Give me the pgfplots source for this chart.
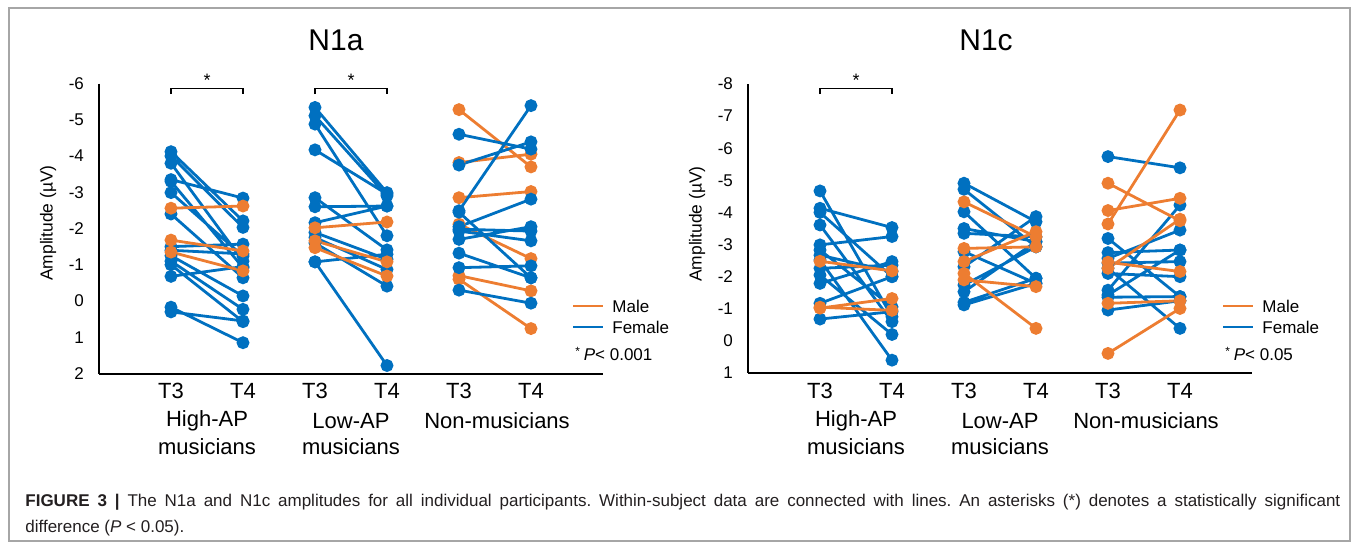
\documentclass[border=0pt]{standalone}
\usepackage{fontspec}
\setmainfont{Liberation Sans}
\usepackage{pgfplots}
\pgfplotsset{compat=1.18}
\definecolor{male}{RGB}{237,125,49}
\definecolor{female}{RGB}{0,112,192}
\definecolor{capgray}{RGB}{35,31,32}
\frenchspacing

\pgfplotsset{
  panel/.style={
    scale only axis, width=252pt,
    xmin=0, xmax=7, y dir=reverse,
    axis x line*=bottom, axis y line*=left,
    axis line style={line width=1pt, -},
    xtick={1,...,6}, xticklabels={T3,T4,T3,T4,T3,T4},
    major tick length=0pt, tick style={draw=none},
    x tick label style={font=\fontsize{11}{13}\selectfont, yshift=-1.5pt},
    y tick label style={font=\fontsize{8.5}{10}\selectfont, xshift=-4pt},
    unbounded coords=jump, clip=false,
  },
  fem/.style={female, line width=1.4pt, mark=*, mark size=2.5pt, mark options={fill=female, draw=female}},
  mal/.style={male, line width=1.4pt, mark=*, mark size=2.5pt, mark options={fill=male, draw=male}},
}

\begin{document}
\begin{tikzpicture}
% ---------- N1a ----------
\begin{axis}[panel, at={(49.5pt,-186.75pt)}, anchor=south west, height=145pt,
  ymin=-6, ymax=2, ytick={-6,...,2}, yticklabels={-6,-5,-4,-3,-2,-1,0,1,2}]
% High-AP
\addplot[fem] coordinates {
 (1,-4.12)(2,-2.21)(1.5,nan) (1,-4.00)(2,-2.03)(1.5,nan) (1,-3.80)(2,-1.10)(1.5,nan)
 (1,-3.35)(2,-2.84)(1.5,nan) (1,-3.30)(2,-0.92)(1.5,nan) (1,-2.99)(2,-1.24)(1.5,nan)
 (1,-2.40)(2,-0.64)(1.5,nan) (1,-1.50)(2,-1.57)(1.5,nan) (1,-1.40)(2,-1.30)(1.5,nan)
 (1,-1.25)(2,-0.14)(1.5,nan) (1,-1.10)(2,0.23)(1.5,nan) (1,-1.00)(2,0.57)(1.5,nan)
 (1,-0.68)(2,-0.95)(1.5,nan) (1,0.17)(2,1.15)(1.5,nan) (1,0.30)(2,0.55)};
\addplot[mal] coordinates {
 (1,-2.56)(2,-2.62)(1.5,nan) (1,-1.68)(2,-1.38)(1.5,nan) (1,-1.35)(2,-0.83)};
% Low-AP
\addplot[fem] coordinates {
 (3,-5.34)(4,-2.99)(3.5,nan) (3,-5.11)(4,-2.90)(3.5,nan) (3,-4.88)(4,-1.80)(3.5,nan)
 (3,-4.17)(4,-2.95)(3.5,nan) (3,-2.85)(4,-1.41)(3.5,nan) (3,-2.60)(4,-2.62)(3.5,nan)
 (3,-2.16)(4,-2.62)(3.5,nan) (3,-1.89)(4,-1.15)(3.5,nan) (3,-1.75)(4,-0.87)(3.5,nan)
 (3,-1.60)(4,-0.41)(3.5,nan) (3,-1.08)(4,-1.29)(3.5,nan) (3,-1.08)(4,1.78)};
\addplot[mal] coordinates {
 (3,-2.02)(4,-2.18)(3.5,nan) (3,-1.66)(4,-1.08)(3.5,nan) (3,-1.47)(4,-0.69)};
% Non-musicians
\addplot[mal] coordinates {
 (5,-5.28)(6,-3.70)(5.5,nan) (5,-3.82)(6,-4.05)(5.5,nan) (5,-2.85)(6,-3.02)(5.5,nan)
 (5,-2.12)(6,-1.17)(5.5,nan) (5,-0.70)(6,-0.28)(5.5,nan) (5,-0.60)(6,0.76)};
\addplot[fem] coordinates {
 (5,-4.60)(6,-4.19)(5.5,nan) (5,-3.75)(6,-4.39)(5.5,nan) (5,-2.49)(6,-5.39)(5.5,nan)
 (5,-2.45)(6,-0.64)(5.5,nan) (5,-2.05)(6,-2.81)(5.5,nan) (5,-1.98)(6,-1.93)(5.5,nan)
 (5,-1.93)(6,-1.66)(5.5,nan) (5,-1.70)(6,-2.05)(5.5,nan) (5,-1.32)(6,-0.64)(5.5,nan)
 (5,-0.92)(6,-0.97)(5.5,nan) (5,-0.30)(6,0.06)};
\end{axis}

% ---------- N1c ----------
\begin{axis}[panel, at={(374pt,-186.5pt)}, anchor=south west, height=144.5pt,
  ymin=-8, ymax=1, ytick={-8,...,1}, yticklabels={-8,-7,-6,-5,-4,-3,-2,-1,0,1}]
% High-AP
\addplot[fem] coordinates {
 (1,-4.67)(2,-0.75)(1.5,nan) (1,-4.13)(2,-3.53)(1.5,nan) (1,-4.00)(2,-2.00)(1.5,nan)
 (1,-3.61)(2,-0.60)(1.5,nan) (1,-2.99)(2,-3.25)(1.5,nan) (1,-2.83)(2,-1.06)(1.5,nan)
 (1,-2.67)(2,-2.16)(1.5,nan) (1,-2.52)(2,0.60)(1.5,nan) (1,-2.26)(2,-2.36)(1.5,nan)
 (1,-2.05)(2,-0.20)(1.5,nan) (1,-1.79)(2,-2.47)(1.5,nan) (1,-1.17)(2,-2.00)(1.5,nan)
 (1,-0.68)(2,-0.91)};
\addplot[mal] coordinates {
 (1,-2.48)(2,-2.18)(1.5,nan) (1,-1.02)(2,-1.32)(1.5,nan) (1,-1.05)(2,-0.95)};
% Low-AP
\addplot[fem] coordinates {
 (3,-4.91)(4,-3.71)(3.5,nan) (3,-4.72)(4,-2.93)(3.5,nan) (3,-4.02)(4,-1.95)(3.5,nan)
 (3,-3.50)(4,-3.09)(3.5,nan) (3,-3.35)(4,-3.24)(3.5,nan) (3,-2.78)(4,-1.79)(3.5,nan)
 (3,-2.31)(4,-3.87)(3.5,nan) (3,-1.74)(4,-2.93)(3.5,nan) (3,-1.53)(4,-3.09)(3.5,nan)
 (3,-1.12)(4,-1.79)(3.5,nan) (3,-1.20)(4,-1.95)};
\addplot[mal] coordinates {
 (3,-4.33)(4,-3.24)(3.5,nan) (3,-2.88)(4,-2.93)(3.5,nan) (3,-2.47)(4,-3.40)(3.5,nan)
 (3,-2.10)(4,-0.39)(3.5,nan) (3,-1.90)(4,-1.69)};
% Non-musicians
\addplot[fem] coordinates {
 (5,-5.74)(6,-5.39)(5.5,nan) (5,-3.19)(6,-1.38)(5.5,nan) (5,-2.75)(6,-2.83)(5.5,nan)
 (5,-2.57)(6,-3.45)(5.5,nan) (5,-2.42)(6,-2.47)(5.5,nan) (5,-2.26)(6,-0.39)(5.5,nan)
 (5,-2.10)(6,-2.00)(5.5,nan) (5,-1.58)(6,-4.23)(5.5,nan) (5,-1.43)(6,-2.83)(5.5,nan)
 (5,-1.36)(6,-1.38)(5.5,nan) (5,-0.96)(6,-1.25)};
\addplot[mal] coordinates {
 (5,-3.64)(6,-7.19)(5.5,nan) (5,-4.91)(6,-3.74)(5.5,nan) (5,-4.06)(6,-4.44)(5.5,nan)
 (5,-2.26)(6,-3.79)(5.5,nan) (5,-2.45)(6,-2.16)(5.5,nan) (5,-1.17)(6,-1.25)(5.5,nan)
 (5,0.39)(6,-1.01)};
\end{axis}

% ---------- annotations (pixel grid: 1px = 0.5pt) ----------
\begin{scope}[x=0.5pt, y=-0.5pt]
\path[use as bounding box] (0,0) rectangle (1358,546);
\draw[gray!70, line width=0.6pt] (9,8) rectangle (1350,541);
% titles
\node[font=\fontsize{15}{18}\selectfont] at (336,40) {N1a};
\node[font=\fontsize{15}{18}\selectfont] at (986,40) {N1c};
% y labels
\node[rotate=90, font=\fontsize{8.7}{10}\selectfont] at (48,223) {Amplitude (µV)};
\node[rotate=90, font=\fontsize{8.7}{10}\selectfont] at (697,224) {Amplitude (µV)};
% group labels
\foreach \x/\a/\b in {207/High-AP/musicians, 351/Low-AP/musicians, 856/High-AP/musicians, 1000/Low-AP/musicians}{
  \node[font=\fontsize{11}{13}\selectfont] at (\x,421) {\a};
  \node[font=\fontsize{11}{13}\selectfont] at (\x,447) {\b};
}
\node[font=\fontsize{11}{13}\selectfont] at (497,421) {Non-musicians};
\node[font=\fontsize{11}{13}\selectfont] at (1146,421) {Non-musicians};
% significance brackets
\foreach \xa/\xb in {171/243, 315/387, 820/892}{
  \draw[line width=0.6pt] (\xa,94) -- (\xa,88.5) -- (\xb,88.5) -- (\xb,94);
  \node[font=\fontsize{9}{10}\selectfont] at ({(\xa+\xb)/2},80) {*};
}
% legends
\foreach \lx/\ptxt in {573/0.001, 1223/0.05}{
  \draw[male, line width=1.4pt] (\lx,306) -- ({\lx+30},306);
  \draw[female, line width=1.4pt] (\lx,327) -- ({\lx+30},327);
  \node[anchor=west, inner sep=0, font=\fontsize{8.5}{10}\selectfont] at ({\lx+39},306) {Male};
  \node[anchor=west, inner sep=0, font=\fontsize{8.5}{10}\selectfont] at ({\lx+39},327) {Female};
  \node[anchor=west, inner sep=0, font=\fontsize{8.5}{10}\selectfont] at ({\lx+2},354) {\textsuperscript{*}\,\textit{P}< \ptxt};
}
% caption
\node[anchor=base west, inner sep=0, text=capgray, font=\fontsize{8.5}{10}\selectfont] at (25,506)
  {\makebox[657.5pt][s]{\textbf{FIGURE 3 |} The N1a and N1c amplitudes for all individual participants. Within-subject data are connected with lines. An asterisks (*) denotes a statistically significant}};
\node[anchor=base west, inner sep=0, text=capgray, font=\fontsize{8.5}{10}\selectfont] at (25,532)
  {difference (\textit{P} < 0.05).};
\end{scope}
\end{tikzpicture}
\end{document}
